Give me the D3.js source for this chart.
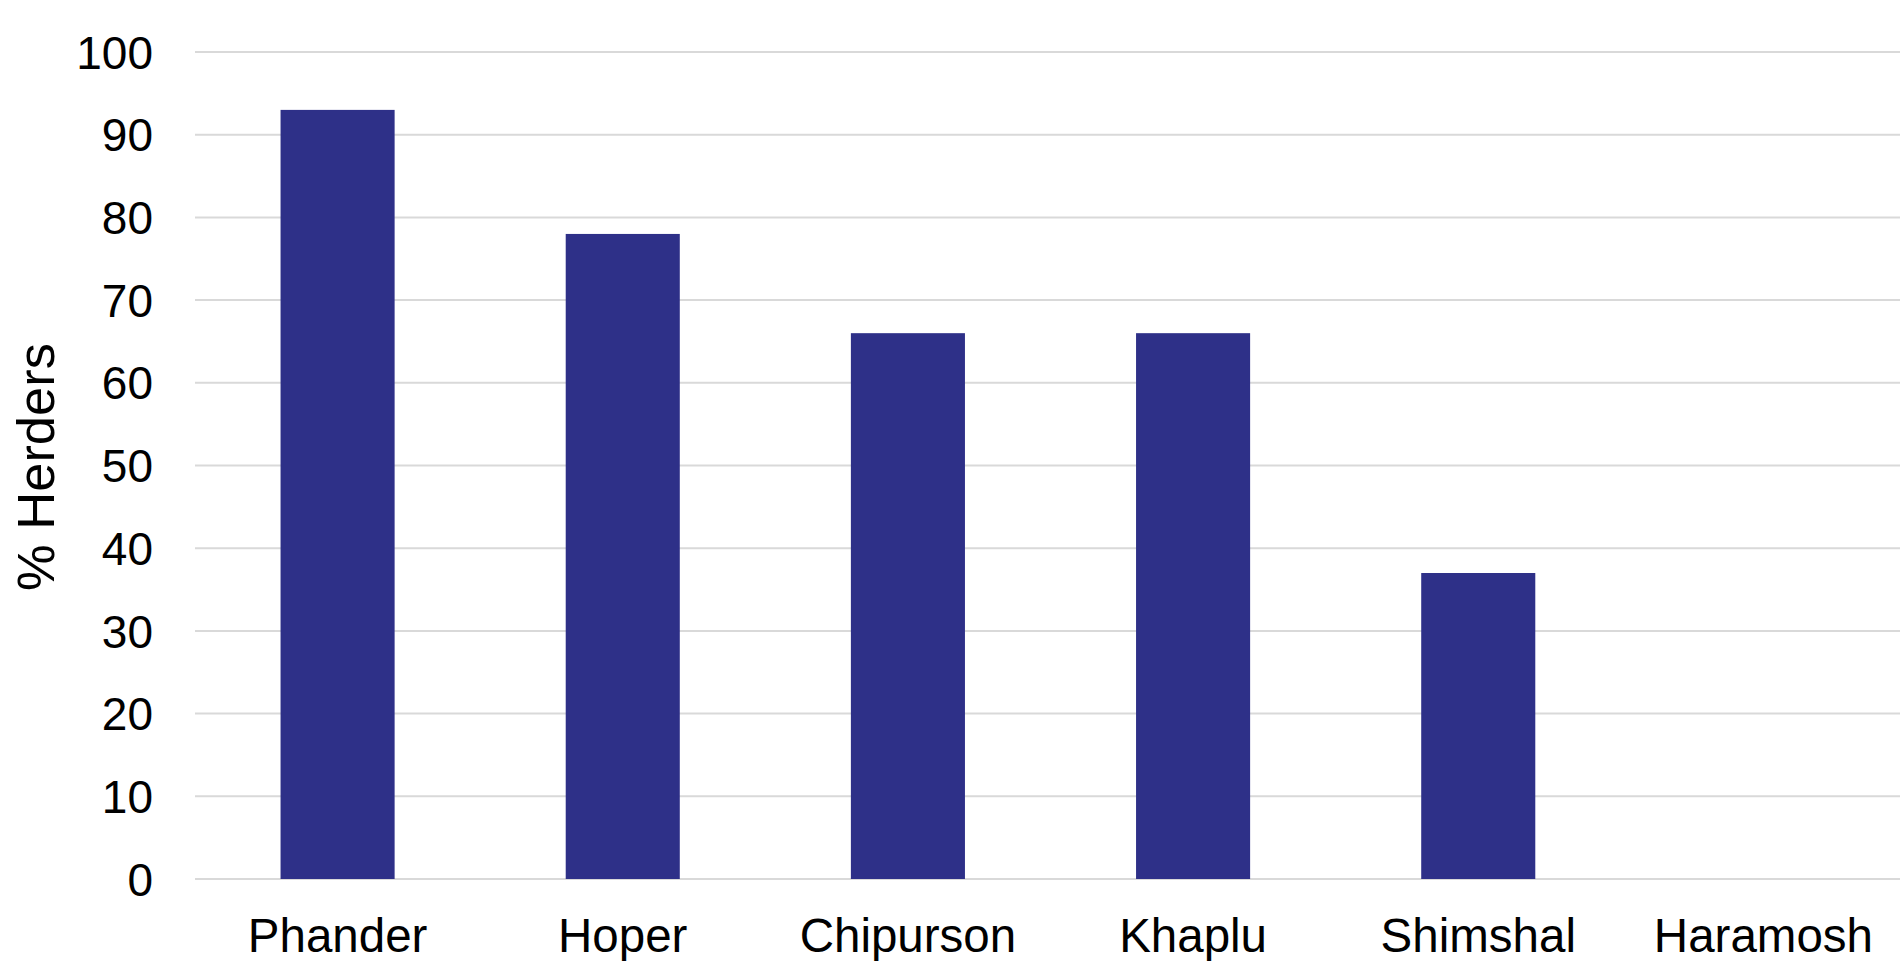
<!DOCTYPE html>
<html>
<head>
<meta charset="utf-8">
<script src="https://cdn.jsdelivr.net/npm/d3@7"></script>
<style>
  html, body { margin: 0; padding: 0; background: #fff; }
  svg { display: block; }
  text { font-family: "Liberation Sans", Arial, sans-serif; fill: #000; }
</style>
</head>
<body>
<svg id="chart" width="1900" height="961"></svg>
<script>
const categories = ["Phander", "Hoper", "Chipurson", "Khaplu", "Shimshal", "Haramosh"];
const values = [93, 78, 66, 66, 37, 0];
const yTicks = [0, 10, 20, 30, 40, 50, 60, 70, 80, 90, 100];
const yLabel = "% Herders";

const svg = d3.select("#chart");
const margin = { left: 195, right: -6, top: 52, bottom: 82 };
const W = 1900, H = 961;

const x = d3.scaleBand()
  .domain(categories)
  .range([margin.left, W - margin.right])
  .paddingInner(0.6)
  .paddingOuter(0.3);

const y = d3.scaleLinear()
  .domain([0, 100])
  .range([H - margin.bottom, margin.top]);

// gridlines
svg.append("g")
  .selectAll("line")
  .data(yTicks)
  .join("line")
  .attr("x1", margin.left)
  .attr("x2", W)
  .attr("y1", d => y(d))
  .attr("y2", d => y(d))
  .attr("stroke", "#d9d9d9")
  .attr("stroke-width", 2);

// y axis labels
const yAxis = d3.axisLeft(y).tickValues(yTicks).tickSize(0).tickPadding(0);
const gy = svg.append("g")
  .attr("transform", `translate(153,0)`)
  .call(yAxis);
gy.select(".domain").remove();
gy.selectAll("text")
  .attr("font-size", 46)
  .attr("font-family", "Liberation Sans, Arial, sans-serif")
  .attr("fill", "#000")
  .attr("dy", "0.35em");

// bars
svg.append("g")
  .selectAll("rect")
  .data(categories.map((c, i) => ({ c, v: values[i] })))
  .join("rect")
  .attr("x", d => x(d.c))
  .attr("width", x.bandwidth())
  .attr("y", d => y(d.v))
  .attr("height", d => y(0) - y(d.v))
  .attr("fill", "#2e3088");

// x axis labels
const xAxis = d3.axisBottom(x).tickSize(0).tickPadding(0);
const gx = svg.append("g")
  .attr("transform", `translate(0,952)`)
  .call(xAxis);
gx.select(".domain").remove();
gx.selectAll("text")
  .attr("font-size", 47.5)
  .attr("font-family", "Liberation Sans, Arial, sans-serif")
  .attr("fill", "#000")
  .attr("y", 0)
  .attr("dy", 0);

// y axis title
svg.append("text")
  .attr("transform", `translate(54,467) rotate(-90)`)
  .attr("text-anchor", "middle")
  .attr("font-size", 52.5)
  .text(yLabel);
</script>
</body>
</html>
